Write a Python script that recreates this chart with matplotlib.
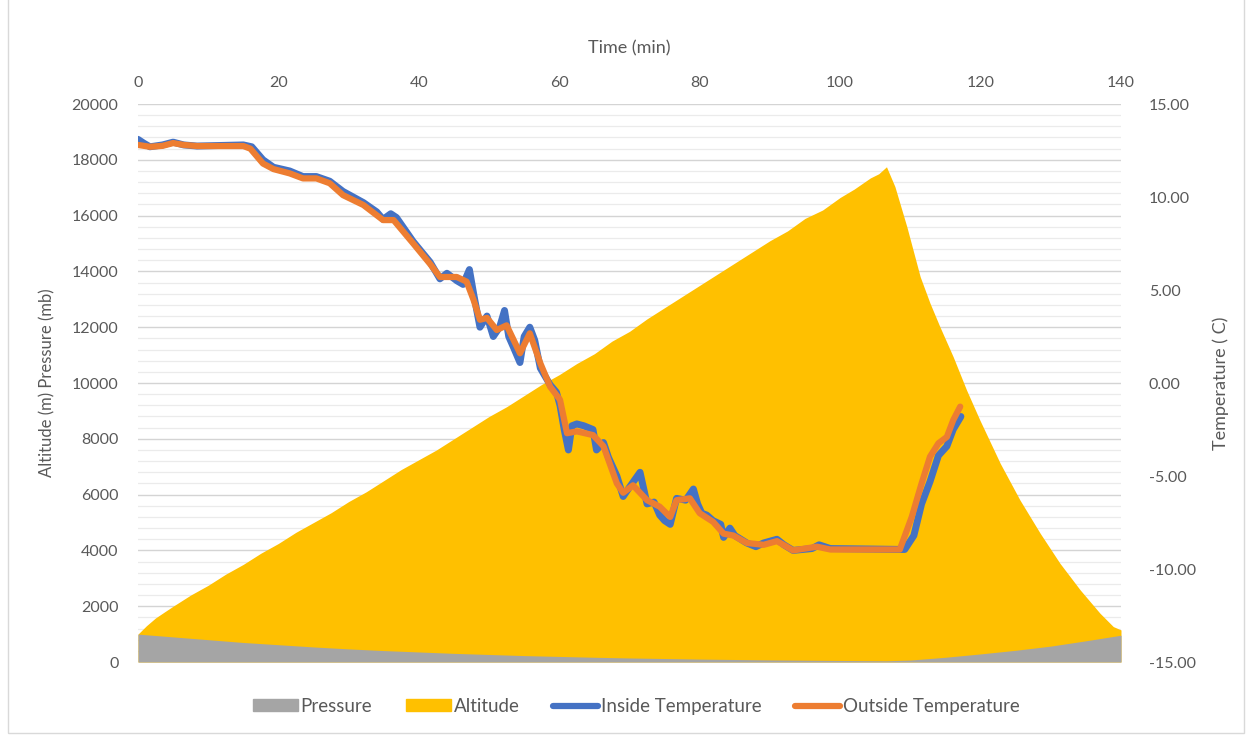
import matplotlib.pyplot as plt
from matplotlib.patches import Patch, Rectangle
from matplotlib.lines import Line2D
from matplotlib.ticker import MultipleLocator, FormatStrFormatter

plt.rcParams['font.family'] = ['Lato', 'DejaVu Sans']
plt.rcParams['axes.unicode_minus'] = False

# Flight data (time in minutes)
alt_time = [0, 1.2, 2.5, 3.8, 5, 7.5, 10, 12.5, 15, 17.5, 20, 22.5, 25, 27.5, 30, 32.5, 35,
            37.5, 40, 42.5, 45, 47.5, 50, 52.5, 55, 57.5, 60, 62.5, 65, 67.5, 70, 72.5, 75,
            77.5, 80, 82.5, 85, 87.5, 90, 92.5, 95, 97.5, 100, 102, 104.3, 105.5, 106.6,
            107.8, 109.5, 111.4, 112.8, 114.2, 116.1, 118.0, 119.9, 122.8, 125.6, 128.5,
            131.3, 134.2, 137.0, 138.9, 140]
altitude = [1000, 1300, 1580, 1800, 2000, 2400, 2750, 3150, 3500, 3900, 4250, 4650, 5000,
            5350, 5750, 6100, 6500, 6900, 7250, 7600, 8000, 8400, 8800, 9150, 9550, 9950,
            10300, 10700, 11050, 11500, 11850, 12300, 12700, 13100, 13500, 13900, 14300,
            14700, 15100, 15450, 15900, 16200, 16650, 16950, 17350, 17500, 17750, 17040,
            15600, 13810, 12860, 12020, 10940, 9750, 8670, 7120, 5810, 4610, 3540, 2580,
            1750, 1270, 1150]

pres_time = [0, 5, 10, 15, 20, 25, 30, 35, 40, 45, 50, 55, 60, 65, 70, 75, 80, 85, 90, 95,
             100, 106.6, 110, 115, 120, 125, 130, 135, 140]
pressure = [1000, 900, 800, 700, 620, 540, 470, 410, 360, 310, 270, 230, 200, 170, 145, 125,
            105, 90, 75, 65, 55, 45, 70, 170, 290, 420, 570, 760, 960]

in_time = [0, 0.8, 1.7, 3.5, 5.0, 6.5, 8.4, 15.0, 16.2, 17.8, 19.3, 21.6, 23.5, 25.4, 27.3,
           29.2, 32.1, 34.0, 34.9, 36.0, 36.8, 39.2, 41.6, 43.0, 44.0, 45.4, 46.3, 47.2,
           47.8, 48.7, 49.7, 50.6, 51.5, 52.2, 52.8, 53.5, 54.4, 55.0, 55.8, 56.5, 57.3,
           58.7, 59.6, 60.1, 60.7, 61.3, 61.8, 62.5, 63.5, 64.8, 65.3, 66.3, 67.0, 68.2,
           69.1, 70.0, 71.5, 72.5, 73.5, 74.3, 75.0, 75.8, 76.7, 78.0, 79.1, 79.7, 80.3,
           81.0, 81.9, 83.0, 83.4, 84.3, 85.0, 86.7, 88.0, 89.1, 91.0, 92.0, 93.3, 96.0,
           97.0, 98.6, 109.2, 110.5, 111.6, 112.8, 114.0, 115.2, 116.1, 117.2]
inside_temp = [13.1, 12.9, 12.7, 12.8, 12.95, 12.8, 12.74, 12.8, 12.7, 12.0, 11.6, 11.4,
               11.1, 11.1, 10.85, 10.3, 9.7, 9.2, 8.8, 9.1, 8.9, 7.6, 6.5, 5.6, 5.9, 5.5,
               5.3, 6.1, 4.8, 3.0, 3.6, 2.5, 3.0, 3.9, 2.5, 1.9, 1.1, 2.5, 3.0, 2.3, 0.8,
               -0.1, -0.5, -1.2, -2.5, -3.6, -2.3, -2.2, -2.3, -2.5, -3.6, -3.2, -4.0,
               -5.0, -6.1, -5.6, -4.8, -6.5, -6.4, -7.1, -7.4, -7.6, -6.2, -6.3, -5.7,
               -6.5, -7.0, -7.1, -7.4, -7.6, -8.3, -7.8, -8.2, -8.6, -8.8, -8.6, -8.4,
               -8.7, -9.0, -8.9, -8.7, -8.9, -8.95, -8.2, -6.5, -5.3, -3.9, -3.4, -2.5,
               -1.8]

out_time = [0, 1.7, 3.5, 5.0, 6.5, 8.4, 12, 15.0, 16.0, 17.8, 19.3, 21.6, 23.5, 25.4, 27.3,
            29.2, 32.1, 34.9, 36.4, 39.2, 41.6, 43.0, 45.4, 46.8, 47.8, 48.7, 49.7, 51.1,
            52.5, 54.4, 55.8, 57.3, 58.7, 60.1, 61.1, 62.5, 64.8, 66.3, 68.2, 69.1, 70.5,
            72.5, 74.3, 75.8, 76.7, 78.6, 80.0, 81.9, 83.4, 84.8, 86.7, 89.1, 91.0, 93.3,
            96.7, 98.6, 108.5, 110.2, 111.6, 112.8, 114.0, 115.2, 116.1, 117.1]
outside_temp = [12.8, 12.7, 12.75, 12.9, 12.8, 12.74, 12.74, 12.74, 12.6, 11.8, 11.5,
                11.27, 11.0, 11.0, 10.74, 10.1, 9.57, 8.76, 8.76, 7.5, 6.4, 5.7, 5.7, 5.45,
                4.46, 3.4, 3.5, 2.85, 3.1, 1.6, 2.67, 1.06, -0.2, -0.9, -2.7, -2.6, -2.8,
                -3.4, -5.4, -5.9, -5.5, -6.3, -6.65, -7.2, -6.3, -6.2, -7.0, -7.46, -8.1,
                -8.2, -8.6, -8.7, -8.5, -9.0, -8.8, -8.95, -8.95, -7.2, -5.4, -3.96, -3.24,
                -2.9, -2.0, -1.27]

text_color = '#595959'
c_alt, c_pres, c_in, c_out = '#FFC000', '#A5A5A5', '#4472C4', '#ED7D31'

fig = plt.figure(figsize=(12.5, 7.35), dpi=100)
fig.patches.append(Rectangle((0.006, 0.003), 0.989, 1.2, transform=fig.transFigure,
                             fill=False, edgecolor='#D9D9D9', lw=1))
ax = fig.add_axes([0.1104, 0.0993, 0.7864, 0.7592])

ax.fill_between(alt_time, altitude, 0, color=c_alt, lw=0, zorder=2)
ax.fill_between(pres_time, pressure, 0, color=c_pres, lw=0, zorder=3)

ax.set_xlim(0, 140)
ax.set_ylim(0, 20000)
ax.xaxis.set_major_locator(MultipleLocator(20))
ax.yaxis.set_major_locator(MultipleLocator(2000))
ax.yaxis.set_minor_locator(MultipleLocator(400))
ax.xaxis.tick_top()
ax.xaxis.set_label_position('top')
ax.set_axisbelow(True)
ax.grid(axis='y', which='major', color='#D4D4D4', lw=1)
ax.grid(axis='y', which='minor', color='#EBEBEB', lw=0.9)
ax.tick_params(which='both', length=0, colors=text_color, labelsize=11.5)
ax.tick_params(axis='x', pad=10)
ax.tick_params(axis='y', pad=14)
ax.set_xlabel('Time (min)', color=text_color, fontsize=13, labelpad=16)
ax.set_ylabel('Altitude (m) Pressure (mb)', color=text_color, fontsize=12, labelpad=12)
for s in ax.spines.values():
    s.set_visible(False)

ax2 = ax.twinx()
ax2.plot(in_time, inside_temp, color=c_in, lw=5, solid_capstyle='round',
         solid_joinstyle='round')
ax2.plot(out_time, outside_temp, color=c_out, lw=4.5, solid_capstyle='round',
         solid_joinstyle='round')
ax2.set_ylim(-15, 15)
ax2.yaxis.set_major_locator(MultipleLocator(5))
ax2.yaxis.set_major_formatter(FormatStrFormatter('%.2f'))
ax2.tick_params(length=0, colors=text_color, labelsize=11.5, pad=20)
ax2.set_ylabel('Temperature ( C)', color=text_color, fontsize=13, labelpad=12)
for s in ax2.spines.values():
    s.set_visible(False)

handles = [Patch(color=c_pres, label='Pressure'),
           Patch(color=c_alt, label='Altitude'),
           Line2D([], [], color=c_in, lw=4.5, solid_capstyle='round', label='Inside Temperature'),
           Line2D([], [], color=c_out, lw=4.5, solid_capstyle='round', label='Outside Temperature')]
fig.legend(handles=handles, loc='center', bbox_to_anchor=(0.509, 0.039), ncol=4,
           frameon=False, fontsize=13.5, labelcolor=text_color, handlelength=2.4,
           handleheight=0.6, handletextpad=0.15, columnspacing=1.8)

fig.savefig('out.png', dpi=100)
